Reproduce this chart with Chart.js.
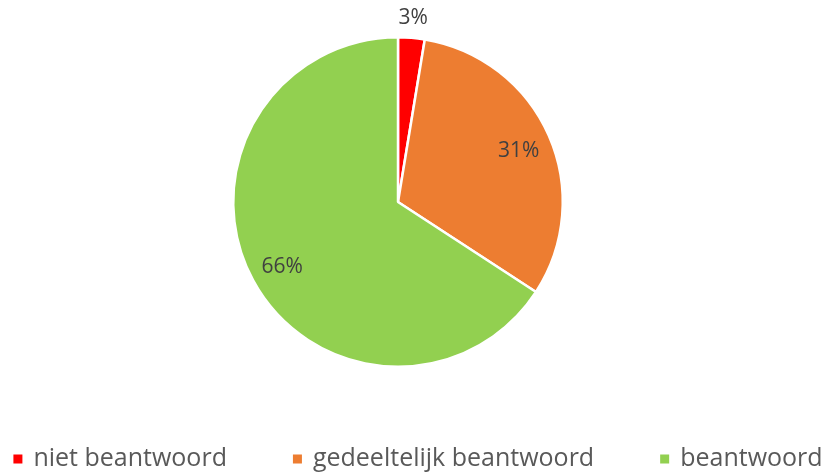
<!DOCTYPE html>
<html lang="nl">
  <head>
    <meta charset="UTF-8" />
    <title>Beantwoord</title>
    <script src="https://cdn.jsdelivr.net/npm/chart.js@4.4.0/dist/chart.umd.min.js"></script>
    <style>
      html, body { margin: 0; padding: 0; background: #fff; }
      #wrap { width: 836px; height: 472px; }
    </style>
  </head>
  <body>
    <div id="wrap"><canvas id="myChart" width="836" height="472"></canvas></div>
    <script>
      const categories = ["niet beantwoord", "gedeeltelijk beantwoord", "beantwoord"];
      const values = [2.6, 31.6, 65.8];
      const valueLabels = ["3%", "31%", "66%"];
      const colors = ["#FF0000", "#ED7D31", "#92D050"];

      const fontFamily = "'Open Sans', sans-serif";

      // percentage labels: inside the slice, or outside for tiny slices
      const sliceLabels = {
        id: "sliceLabels",
        afterDatasetsDraw(chart) {
          const ctx = chart.ctx;
          const meta = chart.getDatasetMeta(0);
          ctx.save();
          ctx.fillStyle = "#404040";
          ctx.font = "21px " + fontFamily;
          ctx.textAlign = "center";
          ctx.textBaseline = "middle";
          meta.data.forEach((arc, i) => {
            const p = arc.getProps(["x", "y", "startAngle", "endAngle", "outerRadius"], true);
            const mid = (p.startAngle + p.endAngle) / 2;
            const r = values[i] < 5 ? p.outerRadius + 22 : p.outerRadius * 0.8;
            ctx.fillText(valueLabels[i], p.x + Math.cos(mid) * r, p.y + Math.sin(mid) * r + 2);
          });
          ctx.restore();
        },
      };

      // legend along the bottom edge
      const bottomLegend = {
        id: "bottomLegend",
        afterDraw(chart) {
          const ctx = chart.ctx;
          ctx.save();
          ctx.font = "25px " + fontFamily;
          ctx.textBaseline = "middle";
          const box = 9, boxGap = 11, itemGap = 66;
          const widths = categories.map((c) => box + boxGap + ctx.measureText(c).width);
          const total = widths.reduce((a, b) => a + b, 0) + itemGap * (categories.length - 1);
          let x = (chart.width - total) / 2;
          const y = 459;
          categories.forEach((c, i) => {
            ctx.fillStyle = colors[i];
            ctx.fillRect(x, y - box / 2, box, box);
            ctx.fillStyle = "#595959";
            ctx.fillText(c, x + box + boxGap, y);
            x += widths[i] + itemGap;
          });
          ctx.restore();
        },
      };

      const ctx = document.getElementById("myChart").getContext("2d");
      const myChart = new Chart(ctx, {
        type: "pie",
        data: {
          labels: categories,
          datasets: [
            {
              data: values,
              backgroundColor: colors,
              borderColor: "#FFFFFF",
              borderWidth: 2.5,
            },
          ],
        },
        options: {
          responsive: false,
          animation: false,
          layout: { padding: { top: 36, bottom: 104, left: 0, right: 40 } },
          plugins: {
            legend: { display: false },
            tooltip: { enabled: false },
          },
        },
        plugins: [sliceLabels, bottomLegend],
      });
    </script>
  </body>
</html>
